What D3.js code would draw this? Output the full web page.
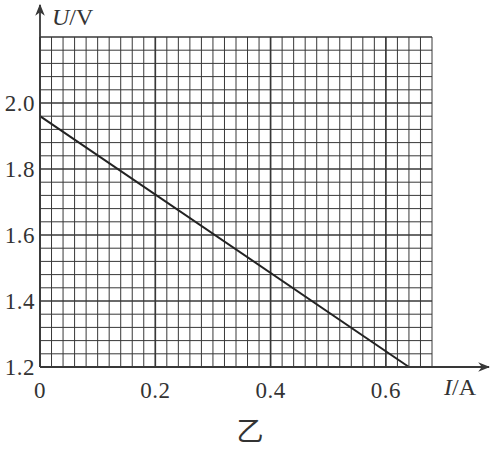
<!DOCTYPE html>
<html>
<head>
<meta charset="utf-8">
<script src="https://cdn.jsdelivr.net/npm/d3@7"></script>
<style>
  body { margin: 0; background: #fff; }
  svg text { font-family: "Liberation Serif", "DejaVu Serif", serif; fill: #333; }
</style>
</head>
<body>
<div class="chart"></div>
<script>
// data
const xTicks = [0, 0.2, 0.4, 0.6];
const yTicks = [1.2, 1.4, 1.6, 1.8, 2.0];
const lineI = [0, 0.64];
const lineU = [1.96, 1.2];

const W = 494, H = 450;
const ink = '#383838';

const x = d3.scaleLinear().domain([0, 0.68]).range([40, 432]);
const y = d3.scaleLinear().domain([1.2, 2.2]).range([367, 37]);

const svg = d3.select('.chart').append('svg')
  .attr('width', W).attr('height', H);

// grid - minor every 0.02 A / 0.04 V, thicker every 0.2
const xMinor = d3.range(0, 0.6801, 0.02);
const yMinor = d3.range(1.2, 2.2001, 0.04);
const isMajor = v => Math.abs(v / 0.2 - Math.round(v / 0.2)) < 1e-6;

const grid = svg.append('g').attr('class', 'grid');
grid.selectAll('.vx').data(xMinor).enter().append('line')
  .attr('x1', d => x(d)).attr('x2', d => x(d))
  .attr('y1', y(1.2)).attr('y2', y(2.2))
  .attr('stroke', ink)
  .attr('stroke-width', d => isMajor(d) ? 1.7 : 1);
grid.selectAll('.hy').data(yMinor).enter().append('line')
  .attr('x1', x(0)).attr('x2', x(0.68))
  .attr('y1', d => y(d)).attr('y2', d => y(d))
  .attr('stroke', ink)
  .attr('stroke-width', d => isMajor(d - 1.2) ? 1.7 : 1);

// the U-I line
const pts = lineI.map((d, i) => [x(d), y(lineU[i])]);
svg.append('path')
  .attr('d', d3.line()(pts))
  .attr('fill', 'none')
  .attr('stroke', '#222')
  .attr('stroke-width', 2);

// axes with arrows
svg.append('defs').append('marker')
  .attr('id', 'arrow')
  .attr('viewBox', '0 0 10 10')
  .attr('refX', 9).attr('refY', 5)
  .attr('markerWidth', 12).attr('markerHeight', 12)
  .attr('markerUnits', 'userSpaceOnUse')
  .attr('orient', 'auto')
  .append('path')
  .attr('d', 'M0,1 L10,5 L0,9 L3,5 Z')
  .attr('fill', ink);

svg.append('line')
  .attr('x1', x(0)).attr('y1', y(1.2))
  .attr('x2', x(0)).attr('y2', 5)
  .attr('stroke', ink).attr('stroke-width', 1.8)
  .attr('marker-end', 'url(#arrow)');
svg.append('line')
  .attr('x1', x(0)).attr('y1', y(1.2))
  .attr('x2', 489).attr('y2', y(1.2))
  .attr('stroke', ink).attr('stroke-width', 1.8)
  .attr('marker-end', 'url(#arrow)');

// tick labels
svg.selectAll('.ylab').data(yTicks).enter().append('text')
  .attr('x', 35).attr('y', d => y(d) + 8)
  .attr('text-anchor', 'end')
  .style('font-size', '23px')
  .style('letter-spacing', '0.5px')
  .text(d => d.toFixed(1));

svg.selectAll('.xlab').data(xTicks).enter().append('text')
  .attr('x', d => x(d)).attr('y', 398)
  .attr('text-anchor', 'middle')
  .style('font-size', '23px')
  .style('letter-spacing', '0.5px')
  .text(d => d === 0 ? '0' : d.toFixed(1));

// axis titles
const uLab = svg.append('text').attr('x', 52).attr('y', 25).style('font-size', '24px');
uLab.append('tspan').style('font-style', 'italic').text('U');
uLab.append('tspan').text('/V');

const iLab = svg.append('text').attr('x', 444).attr('y', 395).style('font-size', '24px');
iLab.append('tspan').style('font-style', 'italic').text('I');
iLab.append('tspan').text('/A');

// caption
svg.append('text')
  .attr('x', 250).attr('y', 441)
  .attr('text-anchor', 'middle')
  .style('font-family', '"Noto Sans CJK SC", sans-serif')
  .style('font-size', '27px')
  .text('乙');
</script>
</body>
</html>
